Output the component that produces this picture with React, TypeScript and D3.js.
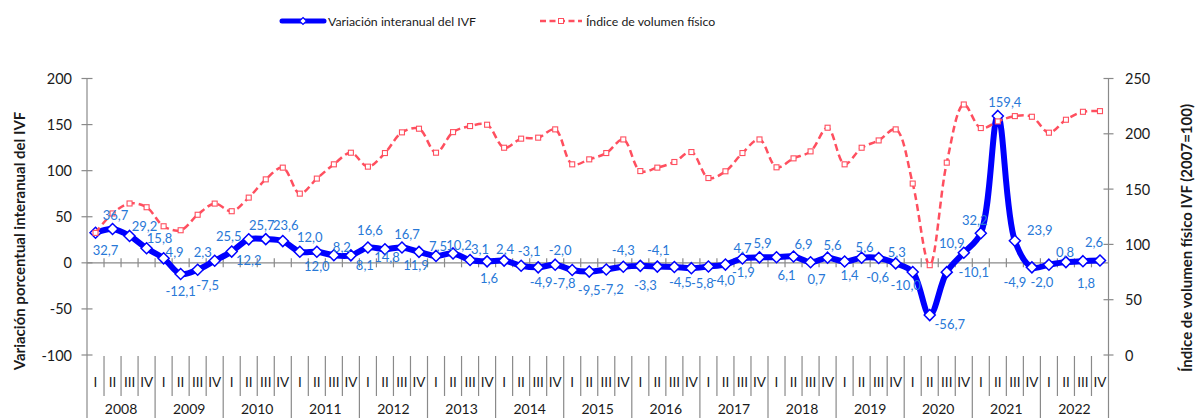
import React from 'react';
import * as d3 from 'd3';

const years = ['2008', '2009', '2010', '2011', '2012', '2013', '2014', '2015', '2016', '2017', '2018', '2019', '2020', '2021', '2022'];
const quarters = ['I', 'II', 'III', 'IV'];

// Variación interanual del IVF (%), left axis
const variacion = [
  32.7, 36.7, 29.2, 15.8,
  4.9, -12.1, -7.5, 2.3,
  12.2, 25.5, 25.7, 23.6,
  12.0, 12.0, 8.2, 8.1,
  16.6, 14.8, 16.7, 11.9,
  7.5, 10.2, 3.1, 1.6,
  2.4, -3.1, -4.9, -2.0,
  -7.8, -9.5, -7.2, -4.3,
  -3.3, -4.1, -4.5, -5.8,
  -4.0, -1.9, 4.7, 5.9,
  6.1, 6.9, 0.7, 5.6,
  1.4, 5.6, 5.3, -0.6,
  -10.0, -56.7, -10.1, 10.9,
  32.2, 159.4, 23.9, -4.9,
  -2.0, 0.8, 1.8, 2.6,
];

// Índice de volumen físico (2007=100), right axis
const indice = [
  110.4, 128.0, 137.0, 133.6,
  116.4, 112.8, 126.8, 136.9,
  130.0, 142.3, 158.8, 169.4,
  145.9, 159.5, 172.4, 182.9,
  170.3, 182.6, 201.3, 204.6,
  182.9, 201.5, 207.0, 208.2,
  187.4, 195.6, 196.5, 204.0,
  172.4, 176.9, 182.6, 194.9,
  166.3, 169.4, 174.5, 183.5,
  160.0, 166.1, 182.6, 194.9,
  169.7, 177.8, 184.1, 205.5,
  172.4, 187.4, 194.0, 204.0,
  155.0, 81.2, 173.9, 226.5,
  205.2, 211.2, 216.0, 215.4,
  201.0, 212.7, 219.9, 220.5,
];

const leftTicks = [-100, -50, 0, 50, 100, 150, 200];
const rightTicks = [0, 50, 100, 150, 200, 250];

// label placement offsets (px) relative to each point of the blue series
const labelDx = [10, 3, 15, 13, 11, 0, 10, -12, 17, -20, -4, 3, 10, 0, 8, 14, 2, 2, 5, -3, 2, 6, 10, 2, 1, 8, 3, 5, -8, 0, 6, 0, 5, 1, 6, 11, 15, 18, 0, 3, 10, 10, 6, 5, 5, 3, 18, -18, -7, 20, 27, -12, -6, 7, 25, -17, -7, -1, 3, -6];
const labelDy = [17, -14, -10, -10, -6, 17, 15, -9, 8, -3, -14, -16, -15, 14, -8, 10, -18, 8, -13, 13, -10, -8, -11, 17, -12, -15, 15, -15, 13, 18, 20, -17, 19, -17, 15, 15, 13, 7, -11, -14, 18, -12, 17, -13, 13, -11, -6, 14, 13, 9, 0, -10, -13, -14, -11, 15, 17, -10, 22, -18];

const W = 1197;
const H = 418;
const FONT = "Lato, 'Noto Sans', sans-serif";
const AXIS = '#8a8a8a';
const BLUE = '#0000FF';
const RED = '#FF4F5F';
const LABEL = '#2878D7';
const TEXT = '#1a1a1a';

const fmt = (v: number) => v.toFixed(1).replace('.', ',');

export default function App() {
  const plotL = 87;
  const plotR = 1108.5;
  const plotT = 78.5;
  const plotB = 355;

  const n = variacion.length;
  const idx = d3.range(n);
  const xb = d3.scaleBand<number>().domain(idx).range([plotL, plotR]).padding(0);
  const step = xb.bandwidth();
  const xc = (i: number) => (xb(i) as number) + step / 2;
  const yL = d3.scaleLinear().domain([-100, 200]).range([plotB, plotT]);
  const yR = d3.scaleLinear().domain([0, 250]).range([plotB, plotT]);

  const lineL = d3.line<number>().x((_, i) => xc(i)).y((d) => yL(d)).curve(d3.curveCatmullRom.alpha(0.5));
  const lineR = d3.line<number>().x((_, i) => xc(i)).y((d) => yR(d)).curve(d3.curveCatmullRom.alpha(0.5));

  const diamond = (r: number) => `M0,${-r}L${r},0L0,${r}L${-r},0Z`;
  const y0 = yL(0);
  const boundaries = d3.range(n + 1).map((k) => plotL + k * step);

  return (
    <svg width={W} height={H} style={{ position: 'absolute', left: 0, top: 0, background: '#fff' }} fontFamily={FONT}>
      <rect x={0} y={0} width={W} height={H} fill="#fff" />

      {/* legend */}
      <g>
        <line x1={282} x2={324} y1={21} y2={21} stroke={BLUE} strokeWidth={5} strokeLinecap="round" />
        <path d={diamond(3.5)} transform="translate(303,21)" fill="#fff" stroke={BLUE} strokeWidth={1.2} />
        <text x={328} y={21} dominantBaseline="central" fontSize={12.3} fill={TEXT}>Variación interanual del IVF</text>
        <line x1={540} x2={582} y1={21} y2={21} stroke={RED} strokeWidth={2.4} strokeDasharray="6,3.5" />
        <rect x={558.5} y={18.5} width={5} height={5} fill="#fff" stroke={RED} strokeWidth={1} />
        <text x={586} y={21} dominantBaseline="central" fontSize={12.3} fill={TEXT}>Índice de volumen físico</text>
      </g>

      {/* left axis */}
      <line x1={plotL} x2={plotL} y1={plotT} y2={H} stroke={AXIS} strokeWidth={1.2} />
      {leftTicks.map((t) => (
        <g key={'l' + t}>
          <line x1={plotL - 5.5} x2={plotL + 5.5} y1={yL(t)} y2={yL(t)} stroke={AXIS} strokeWidth={1.2} />
          <text x={72} y={yL(t)} textAnchor="end" dominantBaseline="central" fontSize={14.5} fill={TEXT}>{t}</text>
        </g>
      ))}

      {/* right axis */}
      <line x1={plotR} x2={plotR} y1={plotT} y2={H} stroke={AXIS} strokeWidth={1.2} />
      {rightTicks.map((t) => (
        <g key={'r' + t}>
          <line x1={plotR - 5} x2={plotR + 5} y1={yR(t)} y2={yR(t)} stroke={AXIS} strokeWidth={1.2} />
          <text x={1125} y={yR(t)} textAnchor="start" dominantBaseline="central" fontSize={14.5} fill={TEXT}>{t}</text>
        </g>
      ))}

      {/* axis titles */}
      <text transform={`translate(19,${241}) rotate(-90)`} textAnchor="middle" dominantBaseline="central" fontSize={15} fontWeight="bold" fill={TEXT}>
        Variación porcentual interanual del IVF
      </text>
      <text transform={`translate(1186,${238}) rotate(-90)`} textAnchor="middle" dominantBaseline="central" fontSize={15} fontWeight="bold" fill={TEXT}>
        Índice de volumen físico IVF (2007=100)
      </text>

      {/* category axis at zero */}
      <line x1={plotL} x2={plotR} y1={y0} y2={y0} stroke={AXIS} strokeWidth={1.2} />
      {boundaries.slice(1, n).map((bx, k) => (
        <line key={'t' + k} x1={bx} x2={bx} y1={y0 - 4.5} y2={y0 + 4.5} stroke={AXIS} strokeWidth={1.2} />
      ))}

      {/* multi-level category labels */}
      {boundaries.slice(1, n).map((bx, k) => (
        <line key={'s' + k} x1={bx} x2={bx} y1={356} y2={(k + 1) % 4 === 0 ? H : 396} stroke={AXIS} strokeWidth={1.2} />
      ))}
      {idx.map((i) => (
        <text key={'q' + i} x={xc(i)} y={382} textAnchor="middle" dominantBaseline="central" fontSize={13.5} fill={TEXT}>
          {quarters[i % 4]}
        </text>
      ))}
      {years.map((yr, k) => (
        <text key={'y' + yr} x={(xc(k * 4 + 1) + xc(k * 4 + 2)) / 2} y={408.5} textAnchor="middle" dominantBaseline="central" fontSize={14} fill={TEXT}>
          {yr}
        </text>
      ))}

      {/* blue series */}
      <path d={lineL(variacion) || ''} fill="none" stroke={BLUE} strokeWidth={6} strokeLinejoin="round" />
      {variacion.map((v, i) => (
        <path key={'d' + i} d={diamond(5.5)} transform={`translate(${xc(i)},${yL(v)})`} fill="#fff" stroke={BLUE} strokeWidth={1.5} />
      ))}

      {/* red series */}
      <path d={lineR(indice) || ''} fill="none" stroke={RED} strokeWidth={2.5} strokeDasharray="7,4" />
      {indice.map((v, i) => (
        <rect key={'s' + i} x={xc(i) - 2.5} y={yR(v) - 2.5} width={5} height={5} fill="#fff" stroke={RED} strokeWidth={1.1} />
      ))}

      {/* data labels */}
      {variacion.map((v, i) => (
        <text key={'lab' + i} x={xc(i) + labelDx[i]} y={yL(v) + labelDy[i]} textAnchor="middle" dominantBaseline="central" fontSize={13} fill={LABEL}>
          {fmt(v)}
        </text>
      ))}
    </svg>
  );
}
